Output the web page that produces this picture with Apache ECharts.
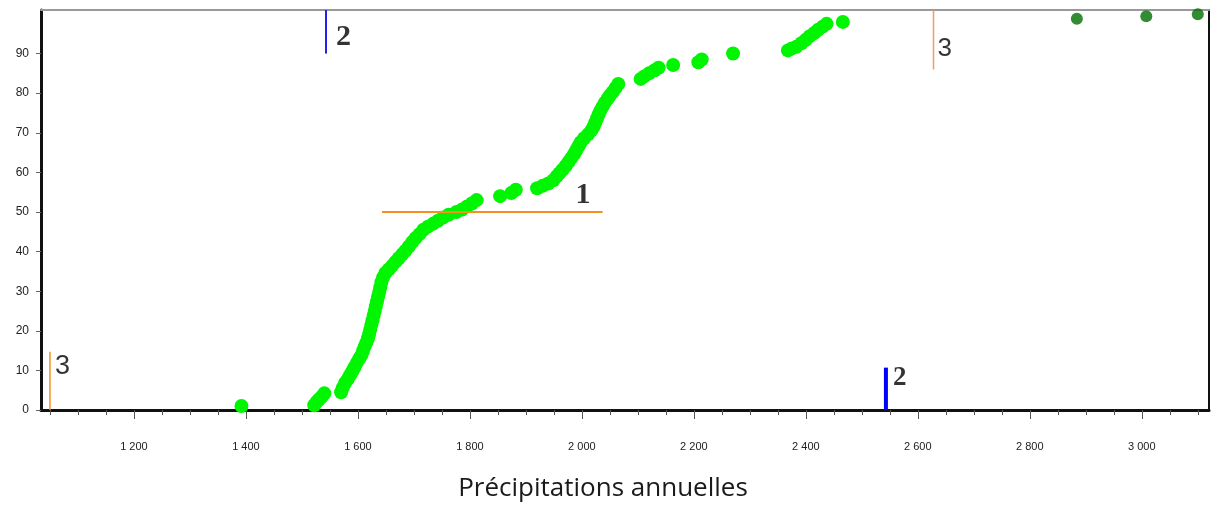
<!DOCTYPE html>
<html>
<head>
<meta charset="utf-8">
<script src="https://cdn.jsdelivr.net/npm/echarts@6/dist/echarts.min.js"></script>
<style>
html,body{margin:0;padding:0;background:#fff;}
#c{width:1218px;height:507px;}
</style>
</head>
<body>
<div id="c"></div>
<script>
// ---- axis ticks ----
const xMajorTicks = [1200, 1400, 1600, 1800, 2000, 2200, 2400, 2600, 2800, 3000];
const xMinorTicks = [1050, 1100, 1150, 1200, 1250, 1300, 1350, 1400, 1450, 1500, 1550, 1600, 1650, 1700, 1750, 1800, 1850, 1900, 1950, 2000, 2050, 2100, 2150, 2200, 2250, 2300, 2350, 2400, 2450, 2500, 2550, 2600, 2650, 2700, 2750, 2800, 2850, 2900, 2950, 3000, 3050, 3100];
const yTicks = [0, 10, 20, 30, 40, 50, 60, 70, 80, 90];

// ---- cumulative frequency points (light green) ----
const precipX = [1392,
  1522, 1526, 1530, 1535, 1540,
  1570, 1573, 1577, 1582, 1586, 1590, 1594, 1598, 1602, 1606, 1609, 1612, 1615, 1618, 1620, 1622, 1624, 1626, 1628, 1630, 1632, 1634, 1636, 1638, 1640, 1642,
  1645, 1649, 1655, 1661, 1667, 1673, 1679, 1685, 1691, 1697, 1703, 1710, 1717, 1725, 1734, 1743, 1752, 1762, 1776, 1786, 1795, 1804, 1812,
  1854, 1874, 1882,
  1920, 1930, 1940, 1949, 1955, 1960, 1965, 1971, 1976, 1981, 1986, 1990, 1994, 1998, 2004, 2011, 2017, 2021, 2024, 2027, 2030, 2033, 2037, 2041, 2046, 2050, 2055, 2060, 2065,
  2105, 2112, 2120, 2130, 2137, 2163, 2208, 2214, 2270,
  2368, 2375, 2383, 2392, 2400, 2407, 2415, 2422, 2430, 2437, 2466];
const freqY = [1.0,
  1.2, 2.0, 2.6, 3.3, 4.2,
  4.5, 5.6, 6.8, 7.8, 8.8, 9.8, 10.8, 11.9, 12.9, 13.8, 14.9, 16.0, 17.0, 18.1, 19.2, 20.3, 21.5, 22.6, 23.8, 25.0, 26.2, 27.4, 28.6, 29.8, 31.0, 32.3,
  33.5, 34.6, 35.5, 36.4, 37.4, 38.3, 39.3, 40.2, 41.3, 42.4, 43.4, 44.4, 45.5, 46.3, 47.0, 47.8, 48.6, 49.3, 50.0, 50.6, 51.4, 52.2, 53.0,
  54.0, 54.8, 55.6,
  56.0, 56.6, 57.2, 58.0, 59.0, 59.8, 60.6, 61.6, 62.6, 63.6, 64.6, 65.6, 66.6, 67.6, 68.6, 69.6, 70.6, 71.6, 72.6, 73.6, 74.6, 75.6, 76.6, 77.6, 78.6, 79.4, 80.3, 81.3, 82.3,
  83.6, 84.3, 85.0, 85.8, 86.4, 87.1, 87.8, 88.5, 90.0,
  90.8, 91.3, 91.7, 92.6, 93.5, 94.4, 95.2, 96.0, 96.8, 97.5, 98.0];

// ---- extreme points (dark green) ----
const extremeX = [2884, 3008, 3100];
const extremeY = [98.8, 99.4, 99.9];

// ---- annotation lines ----
const line1X = [1643, 2037], line1Y = [50, 50];
const line2TopX = [1543, 1543], line2TopY = [90, 101];
const line2BotX = [2543, 2543], line2BotY = [0, 10.7];
const line3LeftX = [1050, 1050], line3LeftY = [0, 14.7];
const line3TopX = [2628, 2628], line3TopY = [86, 101];

// ---- annotation labels ----
const annotText = ['3', '2', '2', '3', '1'];
const annotX = [1050, 1543, 2543, 2628, 2002];
const annotY = [10.9, 94.1, 8.1, 91.3, 54.3];

const X_MIN = 1034, X_MAX = 3120, Y_MIN = 0, Y_MAX = 101;

const zip = (a, b) => a.map((v, i) => [v, b[i]]);
const fmtThousands = v => String(v).replace(/\B(?=(\d{3})+(?!\d))/g, ' ');

function lineSeries(xs, ys, color, width) {
  return {
    type: 'line', data: zip(xs, ys), showSymbol: false, symbol: 'none', silent: true,
    lineStyle: { color: color, width: width }, z: 5, animation: false
  };
}

const labelStyles = [
  { position: 'right', distance: 5, fontFamily: 'Liberation Sans', fontSize: 27, color: '#000' },
  { position: 'right', distance: 10, fontFamily: 'Liberation Serif', fontWeight: 'bold', fontSize: 30, color: '#000' },
  { position: 'right', distance: 7, fontFamily: 'Liberation Serif', fontWeight: 'bold', fontSize: 27, color: '#000' },
  { position: 'right', distance: 4, fontFamily: 'Liberation Sans', fontSize: 26, color: '#000' },
  { position: 'inside', fontFamily: 'Liberation Serif', fontWeight: 'bold', fontSize: 30, color: '#000' }
];

const chart = echarts.init(document.getElementById('c'), null, { renderer: 'canvas' });
chart.setOption({
  animation: false,
  backgroundColor: '#fff',
  grid: { left: 41, right: 9, top: 10, bottom: 97, containLabel: false, outerBoundsMode: 'none' },
  xAxis: [
    {
      type: 'value', min: X_MIN, max: X_MAX, position: 'bottom',
      axisLine: { show: true, onZero: false, lineStyle: { color: '#111', width: 3 } },
      axisTick: { show: true, customValues: xMajorTicks, length: 9, lineStyle: { color: '#555', width: 1 } },
      axisLabel: { customValues: xMajorTicks, formatter: fmtThousands, fontSize: 11, color: '#222', margin: 31, fontFamily: 'Liberation Sans' },
      splitLine: { show: false },
      name: 'Précipitations annuelles', nameLocation: 'middle', nameGap: 66,
      nameTextStyle: { fontSize: 26, color: '#1a1a1a', fontFamily: 'Open Sans', padding: [0, 44, 0, 0] }
    },
    {
      type: 'value', min: X_MIN, max: X_MAX, position: 'bottom',
      axisLine: { show: false, onZero: false },
      axisTick: { show: true, customValues: xMinorTicks, length: 5, lineStyle: { color: '#555', width: 1 } },
      axisLabel: { show: false }, splitLine: { show: false }
    },
    {
      type: 'value', min: X_MIN, max: X_MAX, position: 'top',
      axisLine: { show: true, onZero: false, lineStyle: { color: '#999', width: 2 } },
      axisTick: { show: false }, axisLabel: { show: false }, splitLine: { show: false }
    }
  ],
  yAxis: [
    {
      type: 'value', min: Y_MIN, max: Y_MAX, position: 'left',
      axisLine: { show: true, onZero: false, lineStyle: { color: '#111', width: 3 } },
      axisTick: { show: true, customValues: yTicks, length: 5, lineStyle: { color: '#666', width: 1 } },
      axisLabel: { customValues: yTicks, fontSize: 12, color: '#222', margin: 12, fontFamily: 'Liberation Sans' },
      splitLine: { show: false }
    },
    {
      type: 'value', min: Y_MIN, max: Y_MAX, position: 'right',
      axisLine: { show: true, onZero: false, lineStyle: { color: '#111', width: 2 } },
      axisTick: { show: false }, axisLabel: { show: false }, splitLine: { show: false }
    }
  ],
  series: [
    lineSeries(line1X, line1Y, '#f7901e', 2),
    lineSeries(line2TopX, line2TopY, '#2222ee', 2),
    lineSeries(line2BotX, line2BotY, '#0000ff', 4),
    lineSeries(line3LeftX, line3LeftY, '#f7901e', 1.5),
    lineSeries(line3TopX, line3TopY, '#f59a5c', 1.5),
    {
      type: 'scatter', data: zip(precipX, freqY), symbol: 'circle', symbolSize: 14,
      itemStyle: { color: '#00f500', opacity: 1 }, z: 4, clip: false
    },
    {
      type: 'scatter', data: zip(extremeX, extremeY), symbol: 'circle', symbolSize: 12,
      itemStyle: { color: '#006e00' }, z: 4, clip: false
    },
    {
      type: 'scatter', symbolSize: 0, silent: true, z: 6,
      data: annotText.map((t, i) => ({
        value: [annotX[i], annotY[i]],
        label: Object.assign({ show: true, formatter: t, textBorderWidth: 0 }, labelStyles[i])
      }))
    }
  ]
});
</script>
</body>
</html>
